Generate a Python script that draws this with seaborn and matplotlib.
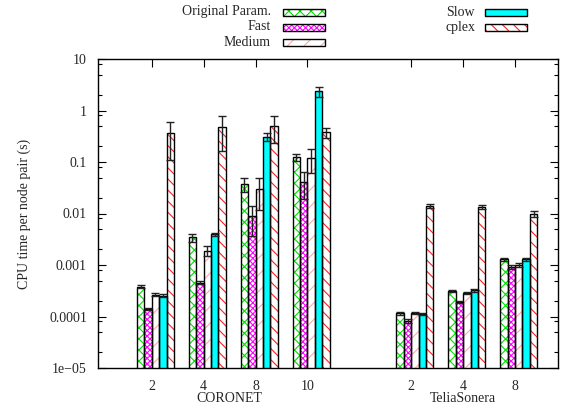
import numpy as np
import pandas as pd
import matplotlib
matplotlib.use("Agg")
import matplotlib.pyplot as plt
from matplotlib.patches import Rectangle
from matplotlib.ticker import LogLocator, NullFormatter
import seaborn as sns

# ---- data -------------------------------------------------------------
networks = ["CORONET", "CORONET", "CORONET", "CORONET",
            "TeliaSonera", "TeliaSonera", "TeliaSonera"]
k_values = ["2", "4", "8", "10", "2", "4", "8"]
methods = ["Original Param.", "Fast", "Medium", "Slow", "cplex"]

orig_mean = [3.8e-4, 3.45e-3, 0.0374, 0.123, 1.15e-4, 3.1e-4, 1.29e-3]
orig_err = [0.3e-4, 0.6e-3, 0.011, 0.02, 0.1e-4, 0.15e-4, 0.08e-3]
fast_mean = [1.4e-4, 4.5e-4, 0.0089, 0.0415, 8.3e-5, 1.89e-4, 9.0e-4]
fast_err = [0.08e-4, 0.3e-4, 0.0053, 0.022, 0.8e-5, 0.1e-4, 0.8e-4]
medium_mean = [2.65e-4, 1.9e-3, 0.0299, 0.121, 1.15e-4, 2.85e-4, 1.0e-3]
medium_err = [0.15e-4, 0.4e-3, 0.018, 0.06, 0.05e-4, 0.1e-4, 0.8e-4]
slow_mean = [2.54e-4, 3.94e-3, 0.31, 2.36, 1.12e-4, 3.2e-4, 1.29e-3]
slow_err = [0.15e-4, 0.3e-3, 0.055, 0.5, 0.05e-4, 0.15e-4, 0.1e-3]
cplex_mean = [0.36, 0.47, 0.507, 0.377, 0.0142, 0.0136, 0.0098]
cplex_err = [0.25, 0.31, 0.27, 0.08, 0.0012, 0.0012, 0.0012]

means = [orig_mean, fast_mean, medium_mean, slow_mean, cplex_mean]
errs = [orig_err, fast_err, medium_err, slow_err, cplex_err]

ytick_vals = [1e-5, 1e-4, 1e-3, 1e-2, 1e-1, 1, 10]
ytick_labels = ["1e\u221205", "0.0001", "0.001", "0.01", "0.1", "1", "10"]

# ---- styles -----------------------------------------------------------
styles = {
    "Original Param.": dict(face="white", hatch="xxx", hcolor="#00e000"),
    "Fast": dict(face="white", hatch="xxxxxx", hcolor="#ff00ff"),
    "Medium": dict(face="white", hatch="//", hcolor="#ffa8a8"),
    "Slow": dict(face="#00ffff", hatch=None, hcolor="#00ffff"),
    "cplex": dict(face="white", hatch="\\\\\\", hcolor="#ff2020"),
}

sns.set_style("ticks")
plt.rcParams["font.family"] = ["Liberation Serif", "DejaVu Serif"]
plt.rcParams["hatch.linewidth"] = 0.8
FS = 10

# categories, with an empty slot separating the two networks
cats = [f"{n} {k}" for n, k in zip(networks, k_values)]
order = cats[:4] + [" "] + cats[4:]

rows = []
for m, vals in zip(methods, means):
    for c, v in zip(cats, vals):
        rows.append({"case": c, "method": m, "time": v})
df = pd.DataFrame(rows)

fig = plt.figure(figsize=(5.64, 4.12), dpi=100)
ax = fig.add_axes([98 / 564, 44 / 412, 460 / 564, 309 / 412])

sns.barplot(data=df, x="case", y="time", hue="method", order=order,
            hue_order=methods, width=5 / 7, errorbar=None, legend=False,
            ax=ax)
ax.set_yscale("log")

# restyle bars: hatch layer + black outline + error bars
for j, (m, cont) in enumerate(zip(methods, ax.containers)):
    st = styles[m]
    xs, hs = [], []
    for p in cont.patches:
        p.set_facecolor(st["face"])
        p.set_edgecolor(st["hcolor"])
        p.set_linewidth(0)
        if st["hatch"]:
            p.set_hatch(st["hatch"])
        ax.add_patch(Rectangle((p.get_x(), p.get_y()), p.get_width(),
                               p.get_height(), fill=False,
                               edgecolor="black", linewidth=1.0, zorder=3))
        xs.append(p.get_x() + p.get_width() / 2)
        hs.append(p.get_height())
    ax.errorbar(xs, hs, yerr=errs[j], fmt="none", ecolor="#222222",
                elinewidth=1.0, capsize=2.6, capthick=1.0, zorder=4)

# axes limits and ticks
ax.set_ylim(1e-5, 10)
ax.set_yticks(ytick_vals)
ax.set_yticklabels(ytick_labels)
ax.yaxis.set_minor_locator(LogLocator(base=10, subs=[2, 5, 8], numticks=20))
ax.yaxis.set_minor_formatter(NullFormatter())

shift = 0.5 / 7
tick_pos = [i - shift for i, c in enumerate(order) if c.strip()]
ax.set_xticks(tick_pos)
ax.set_xticklabels(k_values)
ax.set_xlim(-1.106, 7.756)
ax.set_xlabel("")
ax.set_ylabel("CPU time per node pair (s)", labelpad=13, fontsize=FS)

ax.tick_params(which="both", direction="in", top=True, right=True,
               labelsize=FS, width=0.8, color="black")
ax.tick_params(which="major", length=6, pad=8)
ax.tick_params(axis="x", which="major", length=6, pad=9)
ax.tick_params(which="minor", length=3)
for s in ax.spines.values():
    s.set_linewidth(1.0)
    s.set_color("black")

# group names under the tick labels
trans = matplotlib.transforms.blended_transform_factory(ax.transData,
                                                        ax.transAxes)
for name in ["CORONET", "TeliaSonera"]:
    pos = [tick_pos[i] for i, n in enumerate(networks) if n == name]
    ax.text((pos[0] + pos[-1]) / 2, -0.10, name, transform=trans,
            ha="center", va="center", fontsize=FS)

# key above the plot, text right-justified before each swatch
key_layout = [
    ("Original Param.", 271, 12, 283),
    ("Fast", 271, 27, 283),
    ("Medium", 271, 42.5, 283),
    ("Slow", 475, 12, 485),
    ("cplex", 475, 27, 485),
]
W, H = 564.0, 412.0
for m, tx, ty, sx in key_layout:
    st = styles[m]
    fig.text(tx / W, 1 - ty / H, m, ha="right", va="center", fontsize=FS)
    sw = Rectangle((sx / W, 1 - (ty + 3.5) / H), 42 / W, 7 / H,
                   transform=fig.transFigure, facecolor=st["face"],
                   edgecolor=st["hcolor"], linewidth=0,
                   hatch=st["hatch"])
    fig.add_artist(sw)
    fig.add_artist(Rectangle((sx / W, 1 - (ty + 3.5) / H), 42 / W, 7 / H,
                             transform=fig.transFigure, fill=False,
                             edgecolor="black", linewidth=1.0))

fig.savefig("out.png", dpi=100)
